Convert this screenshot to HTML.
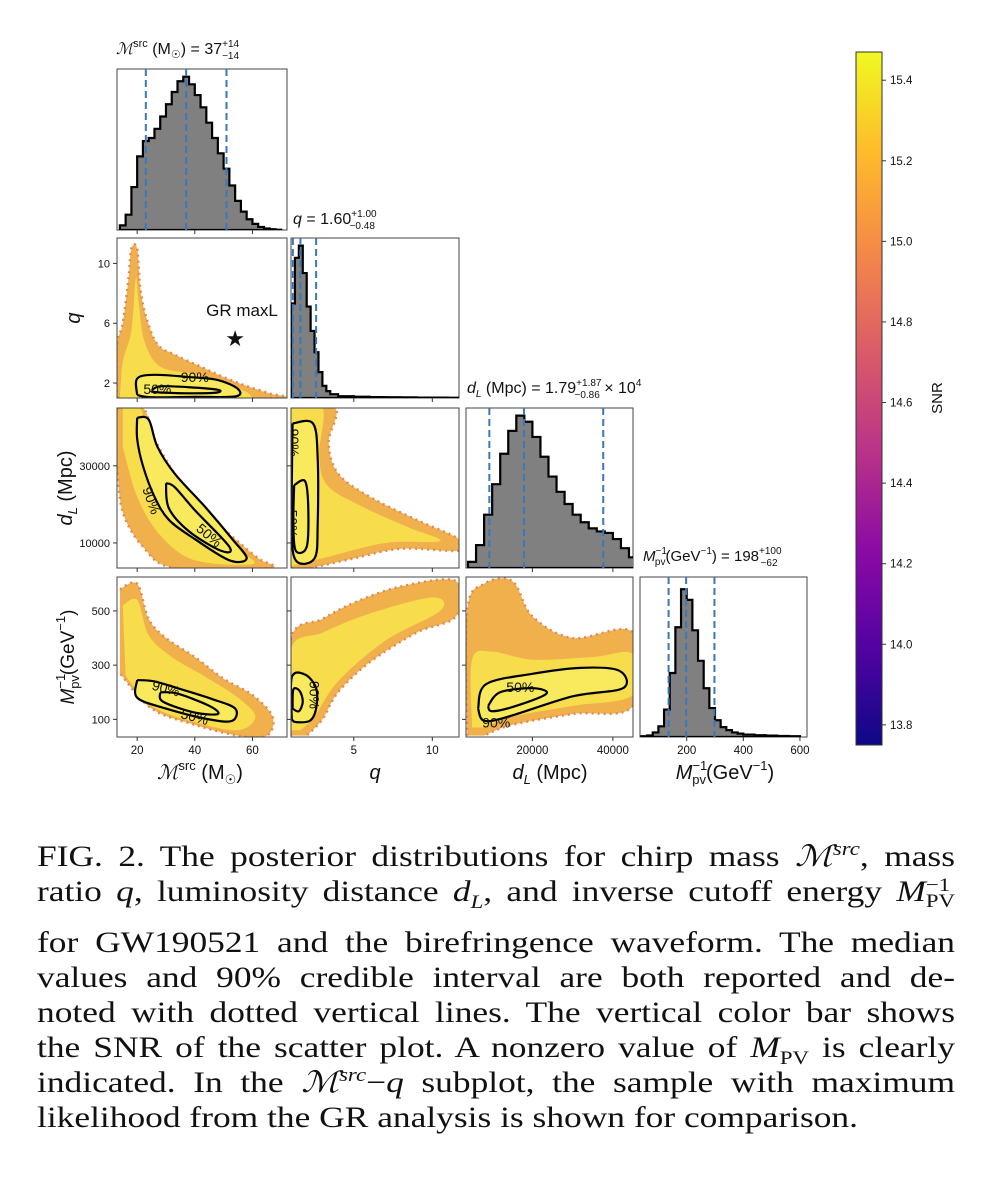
<!DOCTYPE html>
<html><head><meta charset="utf-8">
<style>
html,body{margin:0;padding:0;background:#fff;}
body{width:988px;height:1204px;position:relative;overflow:hidden;font-family:"Liberation Sans",sans-serif;}
#fig{position:absolute;left:0;top:0;}
#caption{position:absolute;left:37px;top:840px;width:765px;transform:scaleX(1.2);transform-origin:0 0;font-family:"Liberation Serif",serif;font-size:29.5px;color:#111;}
#caption div{height:35px;line-height:35px;text-align:justify;text-align-last:justify;white-space:nowrap;}
#caption div.tall{height:51px;}
#caption div.last{text-align-last:left;}
#caption sup,#caption sub{line-height:0;}
i{font-style:italic;}
</style></head>
<body>
<svg id="fig" width="988" height="840" xmlns="http://www.w3.org/2000/svg">
<defs>
<linearGradient id="plasma" x1="0" y1="1" x2="0" y2="0">
<stop offset="0" stop-color="#0d0887"/><stop offset="0.14" stop-color="#5302a3"/><stop offset="0.28" stop-color="#8b0aa5"/><stop offset="0.42" stop-color="#b83289"/><stop offset="0.57" stop-color="#db5c68"/><stop offset="0.71" stop-color="#f48849"/><stop offset="0.86" stop-color="#febd2a"/><stop offset="1" stop-color="#f0f921"/>
</linearGradient>
<clipPath id="c00"><rect x="117" y="69" width="170" height="161"/></clipPath>
<clipPath id="c11"><rect x="291" y="238" width="168" height="160"/></clipPath>
<clipPath id="c22"><rect x="466" y="408" width="167" height="160"/></clipPath>
<clipPath id="c33"><rect x="640" y="577" width="167" height="160"/></clipPath>
<clipPath id="c10"><rect x="117" y="238" width="170" height="160"/></clipPath>
<clipPath id="c20"><rect x="117" y="408" width="170" height="160"/></clipPath>
<clipPath id="c21"><rect x="291" y="408" width="168" height="160"/></clipPath>
<clipPath id="c30"><rect x="117" y="577" width="170" height="160"/></clipPath>
<clipPath id="c31"><rect x="291" y="577" width="168" height="160"/></clipPath>
<clipPath id="c32"><rect x="466" y="577" width="167" height="160"/></clipPath>
</defs>
<g id="root"></g>
</svg>

<div id="caption">
<div>FIG. 2. The posterior distributions for chirp mass <i>ℳ</i><sup style="font-size:19px"><i>src</i></sup>, mass</div>
<div class="tall">ratio <i>q</i>, luminosity distance <i>d<sub style="font-size:19px">L</sub></i>, and inverse cutoff energy <i>M</i><span style="display:inline-block;vertical-align:-6px;line-height:16px;font-size:19px;text-align:left"><span style="display:block">−1</span><span style="display:block">PV</span></span></div>
<div>for GW190521 and the birefringence waveform. The median</div>
<div>values and 90% credible interval are both reported and de-</div>
<div>noted with dotted vertical lines. The vertical color bar shows</div>
<div>the SNR of the scatter plot. A nonzero value of <i>M</i><sub style="font-size:19px">PV</sub> is clearly</div>
<div>indicated. In the <i>ℳ</i><sup style="font-size:19px"><i>src</i></sup>−<i>q</i> subplot, the sample with maximum</div>
<div class="last">likelihood from the GR analysis is shown for comparison.</div>
</div>

<script>
// ---- data ----
const mcBins = [14,16,18,20,22,24,26,28,30,32,34,36,38,40,42,44,46,48,50,52,54,56,58,60,62,64,66,68];
const mcHist = [0.03,0.1,0.28,0.48,0.58,0.6,0.66,0.74,0.82,0.9,0.97,1.0,0.95,0.88,0.8,0.7,0.6,0.5,0.4,0.29,0.19,0.12,0.07,0.04,0.02,0.01,0.005,0.002];
const qBins = [1.0,1.25,1.5,1.75,2.0,2.25,2.5,2.75,3.0,3.25,3.5,4.0,5,6,7,8,9,10,11];
const qHist = [0.62,0.92,1.0,0.82,0.6,0.44,0.3,0.17,0.08,0.045,0.025,0.012,0.008,0.006,0.005,0.004,0.003,0.003,0.002];
const dlBins = [4000,6000,8000,10000,12000,14000,16000,18000,20000,22000,24000,26000,28000,30000,32000,34000,36000,38000,40000,42000,44000];
const dlHist = [0.04,0.15,0.35,0.55,0.75,0.9,1.0,0.96,0.86,0.73,0.6,0.5,0.42,0.35,0.3,0.26,0.24,0.23,0.19,0.13,0.07];
const mpvBins = [40,60,80,100,120,140,160,180,200,220,240,260,280,300,320,340,360,380,400,440,480,520,560];
const mpvHist = [0.005,0.01,0.03,0.07,0.18,0.42,0.72,0.97,0.9,0.7,0.5,0.32,0.19,0.11,0.065,0.045,0.03,0.022,0.016,0.012,0.009,0.007,0.005];
const quantMc = [23,37,51];
const quantQ = [1.12,1.60,2.60];
const quantDl = [9300,17900,37600];
const quantMpv = [136,198,298];
const cloudMcQ = [[13,1],[13,4.5],[15,6],[17,9],[18,11],[20,11],[21,8.5],[23,6.5],[27,4.6],[33,3.9],[42,3.1],[50,2.4],[58,1.8],[66,1.3],[69,1],[13,1]];
const coreMcQ = [[14,1],[15,3.4],[18,5.5],[19.5,9],[20.5,7.5],[22.5,4.8],[28,3.1],[40,2.6],[50,2.0],[58,1.4],[60,1]];
const c90McQ = [[20,1.2],[20,2.3],[26,2.55],[38,2.4],[48,2.2],[55,1.6],[54,1.1],[40,1.08],[25,1.05],[20,1.2]];
const c50McQ = [[25,1.5],[28,1.78],[38,1.72],[48,1.55],[47,1.35],[35,1.32],[26,1.4],[25,1.5]];
const cloudMcDl = [[13,45000],[22,45000],[26,37000],[34,27000],[44,18000],[54,11000],[62,6000],[66,3500],[33,3500],[22,9000],[15,18000],[13,30000]];
const coreMcDl = [[15,45000],[21,45000],[25,35000],[33,26000],[45,16000],[56,8000],[60,4500],[40,5500],[28,12000],[20,22000],[15,35000]];
const c90McDl = [[20,42500],[24,42000],[27,35000],[33,28000],[44,19000],[53,11000],[58,6000],[52,5500],[40,11000],[31,16000],[26,22000],[22,30000],[20,37000],[20,42500]];
const c50McDl = [[30,25500],[33,24500],[40,18500],[52,9000],[49,8000],[38,13000],[31,19000],[30,25500]];
const cloudQDl = [[1,45000],[3.8,45000],[3.4,36000],[4.0,28000],[6,22000],[9,16000],[11.7,11000],[11.7,8000],[8,8500],[5,6000],[2.2,3500],[1,3500]];
const coreQDl = [[1,45000],[3.0,45000],[2.8,33000],[3.3,25000],[5.5,19500],[8.5,14000],[10.5,10500],[7,10000],[3,6000],[1,4000]];
const c90QDl = [[1.1,41000],[2.4,41000],[2.7,32000],[2.7,15000],[2.5,6000],[1.3,5500],[1.05,15000],[1.1,41000]];
const c50QDl = [[1.2,25000],[1.9,26000],[2.1,19000],[2.0,9000],[1.3,8000],[1.15,15000],[1.2,25000]];
const cloudMcMpv = [[14,580],[20,600],[24,470],[30,400],[40,330],[50,250],[60,190],[67,110],[65,40],[55,40],[40,80],[25,140],[14,270]];
const coreMcMpv = [[15,520],[20,540],[24,410],[32,330],[44,255],[55,180],[61,110],[55,60],[40,90],[25,150],[16,260]];
const c90McMpv = [[20,245],[26,240],[34,215],[46,175],[54,140],[53,95],[45,100],[30,140],[20,180],[20,245]];
const c50McMpv = [[28,200],[34,195],[45,150],[48,120],[40,125],[29,165],[28,200]];
const cloudQMpv = [[1,40],[1,400],[3,470],[5,530],[8,590],[11.5,610],[11.5,480],[9,420],[6,310],[4,200],[3,100],[2,40]];
const coreQMpv = [[1,60],[1,360],[3,420],[6,490],[10,550],[10.5,500],[7,390],[4,240],[2.5,110],[1.6,60]];
const c90QMpv = [[1.05,100],[1.05,255],[1.9,265],[2.6,215],[2.6,140],[2.2,95],[1.3,90],[1.05,100]];
const c50QMpv = [[1.1,140],[1.15,210],[1.55,205],[1.75,165],[1.5,130],[1.1,140]];
const cloudDlMpv = [[3800,40],[3800,500],[8000,600],[15000,610],[20000,480],[30000,400],[45000,420],[45000,150],[30000,120],[15000,80],[8000,40]];
const coreDlMpv = [[5000,70],[5000,320],[10000,350],[20000,320],[35000,330],[45000,340],[45000,190],[30000,150],[15000,110],[8000,70]];
const c90DlMpv = [[6500,140],[8500,230],[20000,268],[32000,290],[41500,280],[42500,215],[30000,185],[14000,110],[8000,95],[6500,140]];
const c50DlMpv = [[9000,150],[12000,200],[20000,215],[23500,195],[16000,150],[10000,130],[9000,150]];
const gr = [[54,5.0]];
const cbTicks = [13.8,14.0,14.2,14.4,14.6,14.8,15.0,15.2,15.4];
const mcTicks=[20,40,60], qTicksY=[2,6,10], qTicksX=[5,10], dlTicks=[10000,30000], dlTicksX=[20000,40000], mpvTicksY=[100,300,500], mpvTicksX=[200,400,600];

// ---- geometry ----
const cols=[[117,287],[291,459],[466,633],[640,807]];
const rows=[[69,230],[238,398],[408,568],[577,737]];
const R={mc:[13,72],q:[1,11.7],dl:[3500,45000],mpv:[35,625]};
function sx(v,ax,c){const[a,b]=R[ax];return cols[c][0]+(v-a)/(b-a)*(cols[c][1]-cols[c][0]);}
function sy(v,ax,r){const[a,b]=R[ax];return rows[r][1]-(v-a)/(b-a)*(rows[r][1]-rows[r][0]);}
const NS="http://www.w3.org/2000/svg";
const root=document.getElementById('root');
function mk(tag,attrs,parent){const e=document.createElementNS(NS,tag);for(const k in attrs)e.setAttribute(k,attrs[k]);(parent||root).appendChild(e);return e;}
function txt(x,y,s,size,anchor,parent,extra){const t=mk('text',Object.assign({x:x,y:y,'font-size':size,'text-anchor':anchor||'middle','font-family':'Liberation Sans, sans-serif',fill:'#111'},extra||{}),parent);t.innerHTML=s;return t;}

function frame(c,r,name){const e=mk('rect',{x:cols[c][0],y:rows[r][0],width:cols[c][1]-cols[c][0],height:rows[r][1]-rows[r][0],fill:'none',stroke:'#444','stroke-width':1});

}

function hist(c,r,ax,bins,vals,quant,name){
  const g=mk('g',{'clip-path':'url(#c'+r+c+')'});
  
  
  const top=rows[r][0],bot=rows[r][1],h=(bot-top)/1.05;
  let d='M'+sx(bins[0],ax,c)+','+bot;
  for(let i=0;i<bins.length;i++){
    const x0=sx(bins[i],ax,c);
    const x1=sx(i+1<bins.length?bins[i+1]:bins[i]+(bins[i]-bins[i-1]),ax,c);
    const y=bot-vals[i]*h;
    d+=' L'+x0+','+y+' L'+x1+','+y;
  }
  d+=' L'+sx(bins[bins.length-1]+(bins[bins.length-1]-bins[bins.length-2]),ax,c)+','+bot+' Z';
  mk('path',{d:d,fill:'#808080',stroke:'#000','stroke-width':2.2,'stroke-linejoin':'miter'},g);
  quant.forEach(q=>{const x=sx(q,ax,c);const l=mk('line',{x1:x,x2:x,y1:top,y2:bot,stroke:'#3a78b8','stroke-width':2,'stroke-dasharray':'7,4'},g);
    
    });
}
function smooth(pts,ax,ay,c,r,attrs,g){
  const P=pts.map(p=>[sx(p[0],ax,c),sy(p[1],ay,r)]);
  let d='M'+P[0][0]+','+P[0][1];
  for(let i=0;i<P.length-1;i++){
    const p0=P[Math.max(i-1,0)],p1=P[i],p2=P[i+1],p3=P[Math.min(i+2,P.length-1)];
    d+=' C'+(p1[0]+(p2[0]-p0[0])/6)+','+(p1[1]+(p2[1]-p0[1])/6)+' '+(p2[0]-(p3[0]-p1[0])/6)+','+(p2[1]-(p3[1]-p1[1])/6)+' '+p2[0]+','+p2[1];
  }
  return mk('path',Object.assign({d:d},attrs),g);
}
function scatter(c,r,ax,ay,cloud,core,c90,c50,name,lab){
  const g=mk('g',{'clip-path':'url(#c'+r+c+')'});
  
  
  smooth(cloud,ax,ay,c,r,{fill:'#f0b04c',stroke:'#e08a58','stroke-width':2.5,'stroke-dasharray':'2,4'},g);
  smooth(core,ax,ay,c,r,{fill:'#f7dc4c',stroke:'none'},g);
  const i90=smooth(c90,ax,ay,c,r,{fill:'#f8ea5c',stroke:'#000','stroke-width':2.2},g);
  
  
  const i50=smooth(c50,ax,ay,c,r,{fill:'none',stroke:'#000','stroke-width':2.2},g);
  
  
  lab.forEach(L=>{txt(sx(L[1],ax,c),sy(L[2],ay,r)+5,L[0],14,'middle',g,L[3]?{transform:'rotate('+L[3]+' '+sx(L[1],ax,c)+' '+(sy(L[2],ay,r))+')'}:{});});
}

// panels
frame(0,0,'mc-hist-frame');hist(0,0,'mc',mcBins,mcHist,quantMc,'mc-histogram');
frame(1,1,'q-hist-frame');hist(1,1,'q',qBins,qHist,quantQ,'q-histogram');
frame(2,2,'dl-hist-frame');hist(2,2,'dl',dlBins,dlHist,quantDl,'dl-histogram');
frame(3,3,'mpv-hist-frame');hist(3,3,'mpv',mpvBins,mpvHist,quantMpv,'mpv-histogram');
scatter(0,1,'mc','q',cloudMcQ,coreMcQ,c90McQ,c50McQ,'mc-q-scatter',[['90%',40,2.4],['50%',27,1.6]]);
scatter(0,2,'mc','dl',cloudMcDl,coreMcDl,c90McDl,c50McDl,'mc-dl-scatter',[['90%',25,21000,70],['50%',45,12000,40]]);
scatter(1,2,'q','dl',cloudQDl,coreQDl,c90QDl,c50QDl,'q-dl-scatter',[['90%',1.2,36000,90],['50%',1.1,15000,90]]);
scatter(0,3,'mc','mpv',cloudMcMpv,coreMcMpv,c90McMpv,c50McMpv,'mc-mpv-scatter',[['90%',30,215,15],['50%',40,110,15]]);
scatter(1,3,'q','mpv',cloudQMpv,coreQMpv,c90QMpv,c50QMpv,'q-mpv-scatter',[['90%',2.5,190,90]]);
scatter(2,3,'dl','mpv',cloudDlMpv,coreDlMpv,c90DlMpv,c50DlMpv,'dl-mpv-scatter',[['50%',17000,220],['90%',11000,88]]);
[[0,1],[0,2],[1,2],[0,3],[1,3],[2,3]].forEach(p=>frame(p[0],p[1],'scatter-frame'));

// GR star
const st=txt(sx(gr[0][0],'mc',0),sy(gr[0][1],'q',1)+8,'★',22,'middle');


const grl=txt(242,316,'GR maxL',17,'middle');



// ticks
function xt(c,r,ax,ticks,labels){ticks.forEach(v=>{const x=sx(v,ax,c);mk('line',{x1:x,x2:x,y1:rows[r][1],y2:rows[r][1]+4,stroke:'#333'});if(labels){const t=txt(x,rows[r][1]+17,String(v),11.5,'middle');}});}
function yt(c,r,ax,ticks,labels){ticks.forEach(v=>{const y=sy(v,ax,r);mk('line',{x1:cols[c][0]-4,x2:cols[c][0],y1:y,y2:y,stroke:'#333'});if(labels){const t=txt(cols[c][0]-7,y+4,String(v),11,'end');}});}
for(let r=0;r<3;r++)xt(0,r,'mc',mcTicks,false);
xt(0,3,'mc',mcTicks,true);
for(let r=1;r<3;r++)xt(1,r,'q',qTicksX,false);
xt(1,3,'q',qTicksX,true);
xt(2,2,'dl',dlTicksX,false);xt(2,3,'dl',dlTicksX,true);
xt(3,3,'mpv',mpvTicksX,true);
yt(0,1,'q',qTicksY,true);yt(0,2,'dl',dlTicks,true);yt(0,3,'mpv',mpvTicksY,true);
yt(1,2,'dl',dlTicks,false);yt(1,3,'mpv',mpvTicksY,false);yt(2,3,'mpv',mpvTicksY,false);

// titles
function lab(x,y,s,size,name,anchor,extra){const t=txt(x,y,s,size,anchor||'middle',null,extra);}
lab(116,54,'<tspan font-style="italic" font-family="Liberation Serif">ℳ</tspan><tspan font-size="11" dy="-7">src</tspan><tspan dy="7"> (M</tspan><tspan font-size="11" dy="4">☉</tspan><tspan dy="-4">) = 37</tspan><tspan font-size="10" dy="-7">+14</tspan><tspan font-size="10" dx="-17" dy="12">−14</tspan>',16,'mc-title','start');
lab(293,224,'<tspan font-style="italic">q</tspan> = 1.60<tspan font-size="10" dy="-7">+1.00</tspan><tspan font-size="10" dx="-27" dy="12">−0.48</tspan>',16,'q-title','start');
lab(467,393,'<tspan font-style="italic">d</tspan><tspan font-size="10" font-style="italic" dy="4">L</tspan><tspan dy="-4"> (Mpc) = 1.79</tspan><tspan font-size="10" dy="-7">+1.87</tspan><tspan font-size="10" dx="-27" dy="12">−0.86</tspan><tspan dy="-5"> × 10</tspan><tspan font-size="10" dy="-7">4</tspan>',16,'dl-title','start');
lab(643,561,'<tspan font-style="italic">M</tspan><tspan font-size="10" dy="-7">−1</tspan><tspan font-size="10" dx="-12" dy="11">pv</tspan><tspan dy="-4">(GeV</tspan><tspan font-size="10" dy="-7">−1</tspan><tspan dy="7">) = 198</tspan><tspan font-size="10" dy="-7">+100</tspan><tspan font-size="10" dx="-21" dy="12">−62</tspan>',15,'mpv-title','start');
// axis labels
lab(200,779,'<tspan font-style="italic" font-family="Liberation Serif">ℳ</tspan><tspan font-size="13" dy="-9">src</tspan><tspan dy="9"> (M</tspan><tspan font-size="13" dy="5">☉</tspan><tspan dy="-5">)</tspan>',20,'x-axis-title-mc');
lab(375,779,'<tspan font-style="italic">q</tspan>',20,'x-axis-title-q');
lab(550,779,'<tspan font-style="italic">d</tspan><tspan font-size="13" font-style="italic" dy="5">L</tspan><tspan dy="-5"> (Mpc)</tspan>',20,'x-axis-title-dl');
lab(725,779,'<tspan font-style="italic">M</tspan><tspan font-size="13" dy="-9">−1</tspan><tspan font-size="13" dx="-15" dy="14">pv</tspan><tspan dy="-5">(GeV</tspan><tspan font-size="13" dy="-9">−1</tspan><tspan dy="9">)</tspan>',20,'x-axis-title-mpv');
lab(80,318,'<tspan font-style="italic">q</tspan>',20,'y-axis-title-q','middle',{transform:'rotate(-90 80 318)'});
lab(72,488,'<tspan font-style="italic">d</tspan><tspan font-size="13" font-style="italic" dy="5">L</tspan><tspan dy="-5"> (Mpc)</tspan>',20,'y-axis-title-dl','middle',{transform:'rotate(-90 72 488)'});
lab(74,657,'<tspan font-style="italic">M</tspan><tspan font-size="13" dy="-9">−1</tspan><tspan font-size="13" dx="-15" dy="14">pv</tspan><tspan dy="-5">(GeV</tspan><tspan font-size="13" dy="-9">−1</tspan><tspan dy="9">)</tspan>',19,'y-axis-title-mpv','middle',{transform:'rotate(-90 74 657)'});

// colorbar
const cb=mk('rect',{x:856,y:52,width:26,height:693,fill:'url(#plasma)',stroke:'#333','stroke-width':1});


const cbMin=13.75,cbMax=15.47;
cbTicks.forEach(v=>{const y=745-(v-cbMin)/(cbMax-cbMin)*693;mk('line',{x1:882,x2:886,y1:y,y2:y,stroke:'#333'});const t=txt(890,y+4,v.toFixed(1),11.5,'start');});
lab(942,398,'SNR',15,'colorbar-title','middle',{transform:'rotate(-90 942 398)'});
</script>
</body></html>
